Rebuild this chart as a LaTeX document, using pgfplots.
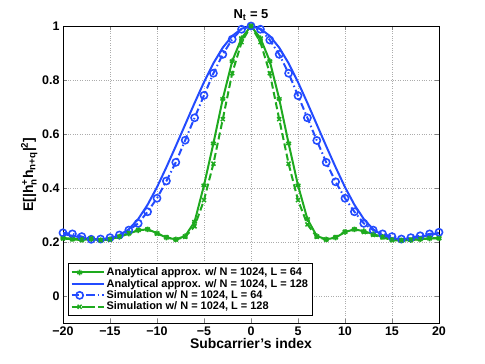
\documentclass[border=0pt]{standalone}
\usepackage{fontspec}
\setmainfont{Liberation Sans}
\usepackage{amsmath}
\usepackage{pgfplots}
\pgfplotsset{compat=1.18}
\definecolor{mgreen}{RGB}{30,170,30}
\definecolor{mblue}{RGB}{35,75,255}

\begin{document}
\begin{tikzpicture}
\useasboundingbox (-63bp,-41bp) rectangle (422bp,323bp);
\begin{axis}[
at={(0,0)}, anchor=south west,
scale only axis,
width=376bp, height=297bp,
xmin=-20, xmax=20, ymin=-0.1, ymax=1,
xtick={-20,-15,...,20},
xticklabels={−20,−15,−10,−5,0,5,10,15,20},
ytick={0,0.2,0.4,0.6,0.8,1},
yticklabels={0,0.2,0.4,0.6,0.8,1},
tick label style={font=\bfseries\fontsize{12.5}{14}\selectfont},
grid=major,
grid style={dotted, gray!65, line width=0.6pt},
tick align=inside,
major tick length=4bp,
axis line style={line width=0.8pt},
title={\textbf{N$_{\textbf{t}}$ = 5}},
title style={font=\fontsize{13}{15}\selectfont, yshift=-4bp},
xlabel={\textbf{Subcarrier's index}},
xlabel style={font=\fontsize{14}{16}\selectfont, yshift=4bp},
ylabel={\textbf{E[|h}$^{\textbf{+}}_{\textbf{n}}$\textbf{h}$_{\textbf{n+q}}$\textbf{|}$^{\textbf{2}}$\textbf{]}},
ylabel style={font=\fontsize{14}{16}\selectfont, yshift=-2bp},
legend style={at={(0.014,0.024)}, anchor=south west, draw=black, line width=0.8pt,
  fill=white, font=\bfseries\fontsize{11}{12}\selectfont, cells={anchor=west},
  row sep=-2pt, inner sep=2pt},
legend image code/.code={\draw[#1] (0bp,0bp) -- (16bp,0bp) plot coordinates {(8bp,0bp)} (16bp,0bp) -- (32bp,0bp);},
]
% Analytical approx. L = 64
\addplot[mgreen, line width=2pt, mark=asterisk, mark size=2.8pt, mark options={solid, line width=1.5pt}] coordinates {
(-20,0.215) (-19,0.212) (-18,0.209) (-17,0.211) (-16,0.207) (-15,0.210) (-14,0.219) (-13,0.231) (-12,0.243) (-11,0.247) (-10,0.233)
(-9,0.216) (-8,0.210) (-7,0.222) (-6,0.275) (-5,0.410) (-4,0.565) (-3,0.730) (-2,0.870) (-1,0.955) (0,1.000)
(1,0.955) (2,0.870) (3,0.730) (4,0.565) (5,0.410) (6,0.285) (7,0.222) (8,0.210) (9,0.216) (10,0.237)
(11,0.247) (12,0.240) (13,0.229) (14,0.219) (15,0.209) (16,0.206) (17,0.207) (18,0.210) (19,0.213) (20,0.214)};
\addlegendentry{Analytical approx. w/ N = 1024, L = 64}
% Analytical approx. L = 128
\addplot[mblue, line width=2pt] coordinates {
(-20,0.230) (-19,0.223) (-18,0.216) (-17,0.211) (-16,0.209) (-15,0.213) (-14,0.225) (-13,0.247) (-12,0.285) (-11,0.338) (-10,0.403)
(-9,0.477) (-8,0.555) (-7,0.635) (-6,0.715) (-5,0.792) (-4,0.862) (-3,0.920) (-2,0.963) (-1,0.990) (0,1.000)
(1,0.990) (2,0.963) (3,0.920) (4,0.862) (5,0.792) (6,0.715) (7,0.635) (8,0.555) (9,0.477) (10,0.403)
(11,0.338) (12,0.285) (13,0.247) (14,0.225) (15,0.214) (16,0.210) (17,0.213) (18,0.219) (19,0.226) (20,0.233)};
\addlegendentry{Analytical approx. w/ N = 1024, L = 128}
% Simulation L = 64
\addplot[mblue, line width=2pt, dash pattern=on 7bp off 3bp on 1.5bp off 3bp, mark=o, mark size=3.6pt, mark options={solid, line width=1.6pt}] coordinates {
(-20,0.234) (-19,0.230) (-18,0.220) (-17,0.210) (-16,0.211) (-15,0.216) (-14,0.226) (-13,0.244) (-12,0.269) (-11,0.312) (-10,0.362)
(-9,0.426) (-8,0.495) (-7,0.577) (-6,0.660) (-5,0.743) (-4,0.825) (-3,0.895) (-2,0.951) (-1,0.988) (0,1.000)
(1,0.988) (2,0.948) (3,0.895) (4,0.825) (5,0.742) (6,0.660) (7,0.576) (8,0.495) (9,0.423) (10,0.362)
(11,0.312) (12,0.269) (13,0.244) (14,0.230) (15,0.220) (16,0.211) (17,0.216) (18,0.223) (19,0.230) (20,0.236)};
\addlegendentry{Simulation w/ N = 1024, L = 64}
% Simulation L = 128
\addplot[mgreen, line width=2pt, dash pattern=on 7bp off 3.5bp, mark=x, mark size=2.8pt, mark options={solid, line width=1.5pt}] coordinates {
(-20,0.213) (-19,0.210) (-18,0.207) (-17,0.213) (-16,0.206) (-15,0.209) (-14,0.220) (-13,0.233) (-12,0.245) (-11,0.247) (-10,0.231)
(-9,0.218) (-8,0.209) (-7,0.219) (-6,0.258) (-5,0.355) (-4,0.490) (-3,0.655) (-2,0.825) (-1,0.940) (0,1.000)
(1,0.940) (2,0.825) (3,0.655) (4,0.490) (5,0.355) (6,0.265) (7,0.219) (8,0.209) (9,0.218) (10,0.238)
(11,0.247) (12,0.237) (13,0.226) (14,0.217) (15,0.207) (16,0.205) (17,0.208) (18,0.211) (19,0.214) (20,0.214)};
\addlegendentry{Simulation w/ N = 1024, L = 128}
\end{axis}
\end{tikzpicture}
\end{document}
